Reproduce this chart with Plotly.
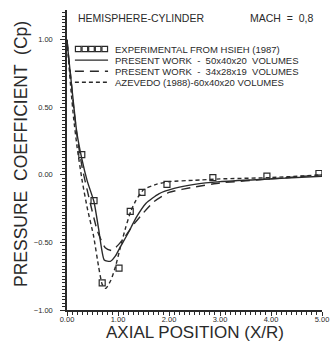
import plotly.graph_objects as go

# ---- data ----
exp_x  = [0.29, 0.53, 0.69, 1.02, 1.24, 1.47, 1.96, 2.86, 3.92, 4.94]
exp_cp = [0.15, -0.19, -0.80, -0.69, -0.27, -0.13, -0.07, -0.02, -0.01, 0.01]

fine_x  = [0.0, 0.03, 0.08, 0.13, 0.19, 0.29, 0.40, 0.53, 0.62, 0.73, 0.85, 0.95, 1.05, 1.20,
           1.35, 1.55, 1.80, 2.10, 2.50, 3.00, 4.00, 5.00]
fine_cp = [1.00, 0.88, 0.70, 0.52, 0.32, 0.12, -0.05, -0.20, -0.40, -0.63, -0.64, -0.60, -0.53,
           -0.43, -0.32, -0.21, -0.14, -0.10, -0.07, -0.05, -0.03, -0.01]

coarse_x  = [0.0, 0.03, 0.08, 0.13, 0.20, 0.30, 0.45, 0.60, 0.75, 0.88, 1.00, 1.15, 1.30, 1.50,
             1.70, 2.00, 2.50, 3.00, 4.00, 5.00]
coarse_cp = [1.00, 0.88, 0.70, 0.50, 0.28, 0.05, -0.20, -0.42, -0.54, -0.56, -0.52, -0.45,
             -0.37, -0.28, -0.20, -0.13, -0.09, -0.06, -0.03, 0.00]

azev_x  = [0.0, 0.03, 0.08, 0.13, 0.20, 0.30, 0.40, 0.52, 0.62, 0.69, 0.76, 0.86, 0.95, 1.05,
           1.15, 1.25, 1.35, 1.50, 1.75, 2.00, 2.50, 3.00, 4.00, 5.00]
azev_cp = [1.00, 0.85, 0.62, 0.42, 0.20, -0.05, -0.25, -0.45, -0.68, -0.81, -0.84, -0.78,
           -0.68, -0.53, -0.39, -0.27, -0.19, -0.11, -0.07, -0.05, -0.04, -0.03, -0.02, 0.00]

legend_labels = ["EXPERIMENTAL FROM HSIEH (1987)",
                 "PRESENT WORK  -  50x40x20  VOLUMES",
                 "PRESENT WORK  -  34x28x19  VOLUMES",
                 "AZEVEDO (1988)-60x40x20 VOLUMES"]

x_ticks = [0, 1, 2, 3, 4, 5]
x_ticklabels = ["0.00", "1.00", "2.00", "3.00", "4.00", "5.00"]
y_ticks = [-1.0, -0.5, 0.0, 0.5, 1.0]
y_ticklabels = ["\u22121.00", "\u22120.50", "0.00", "0.50", "1.00"]

INK = "#2a2a2a"
FONT = "Liberation Sans, Arial, sans-serif"

W, H = 334, 342
ML, MR, MT, MB = 67, 12, 10, 32

fig = go.Figure()
fig.add_trace(go.Scatter(x=fine_x, y=fine_cp, mode="lines",
                         line=dict(color=INK, width=1.4, shape="spline", smoothing=0.5)))
fig.add_trace(go.Scatter(x=coarse_x, y=coarse_cp, mode="lines",
                         line=dict(color=INK, width=1.4, dash="9px,6px", shape="spline", smoothing=0.5)))
fig.add_trace(go.Scatter(x=azev_x, y=azev_cp, mode="lines",
                         line=dict(color=INK, width=1.4, dash="4px,3px", shape="spline", smoothing=0.5)))
fig.add_trace(go.Scatter(x=exp_x, y=exp_cp, mode="markers",
                         marker=dict(symbol="square-open", size=6, color=INK, line=dict(width=1.2))))

# ---- hand-drawn style legend (paper coordinates) ----
x0, x1, xt = 0.031, 0.161, 0.18
row_y = [0.870, 0.833, 0.796, 0.759]
shapes = []
nsq = 5
w = (x1 - x0) / nsq
for i in range(nsq):
    shapes.append(dict(type="rect", xref="paper", yref="paper",
                       x0=x0 + i * w + 0.002, x1=x0 + (i + 1) * w - 0.002,
                       y0=row_y[0] - 0.009, y1=row_y[0] + 0.009,
                       line=dict(color=INK, width=1.2)))
dashes = ["solid", "9px,6px", "4px,3px"]
for r, d in zip(row_y[1:], dashes):
    shapes.append(dict(type="line", xref="paper", yref="paper", x0=x0, x1=x1, y0=r, y1=r,
                       line=dict(color=INK, width=1.4, dash=d)))
annotations = []
for r, lab in zip(row_y, legend_labels):
    annotations.append(dict(xref="paper", yref="paper", x=xt, y=r, text=lab, showarrow=False,
                            xanchor="left", yanchor="middle",
                            font=dict(family=FONT, size=9.5, color=INK)))
annotations.append(dict(xref="paper", yref="paper", x=0.035, y=0.973, text="HEMISPHERE-CYLINDER",
                        showarrow=False, xanchor="left", yanchor="middle",
                        font=dict(family=FONT, size=10.5, color=INK)))
annotations.append(dict(xref="paper", yref="paper", x=0.71, y=0.973, text="MACH  =  0,8",
                        showarrow=False, xanchor="left", yanchor="middle",
                        font=dict(family=FONT, size=10.5, color=INK)))
# axis titles (placed in pixels below / left of the plot area)
annotations.append(dict(xref="paper", yref="paper", x=0.5, y=0, yshift=-22,
                        text="AXIAL POSITION (X/R)",
                        showarrow=False, xanchor="center", yanchor="middle",
                        font=dict(family=FONT, size=17, color=INK)))
annotations.append(dict(xref="paper", yref="paper", x=0, xshift=-46, y=0.52,
                        text="PRESSURE  COEFFICIENT  (Cp)",
                        showarrow=False, xanchor="center", yanchor="middle", textangle=-90,
                        font=dict(family=FONT, size=17.5, color=INK)))

fig.update_layout(
    width=W, height=H,
    margin=dict(l=ML, r=MR, t=MT, b=MB, pad=0, autoexpand=False),
    paper_bgcolor="white", plot_bgcolor="white",
    showlegend=False,
    shapes=shapes, annotations=annotations,
    font=dict(family=FONT, color=INK),
)
fig.update_xaxes(range=[0, 5.0], tickvals=x_ticks, ticktext=x_ticklabels,
                 showgrid=False, zeroline=False, showline=True, linecolor=INK, linewidth=1.5,
                 ticks="outside", ticklen=4, tickcolor=INK, tickwidth=1, automargin=False,
                 ticklabelstandoff=-3,
                 minor=dict(dtick=0.1, ticks="outside", ticklen=3, tickcolor=INK, tickwidth=1),
                 tickfont=dict(size=7.5, color=INK))
fig.update_yaxes(range=[-1.0, 1.22], tickvals=y_ticks, ticktext=y_ticklabels,
                 showgrid=False, zeroline=False, showline=True, linecolor=INK, linewidth=1.5,
                 ticks="outside", ticklen=5, tickcolor=INK, tickwidth=1, ticklabelstandoff=6,
                 automargin=False,
                 minor=dict(dtick=0.025, ticks="outside", ticklen=3, tickcolor=INK, tickwidth=1),
                 tickfont=dict(size=7.5, color=INK))

fig.write_html("out.html", config={"displayModeBar": False},
               post_script="document.body.style.margin='0';document.body.style.padding='0';"
                           "document.documentElement.style.overflow='hidden';")
